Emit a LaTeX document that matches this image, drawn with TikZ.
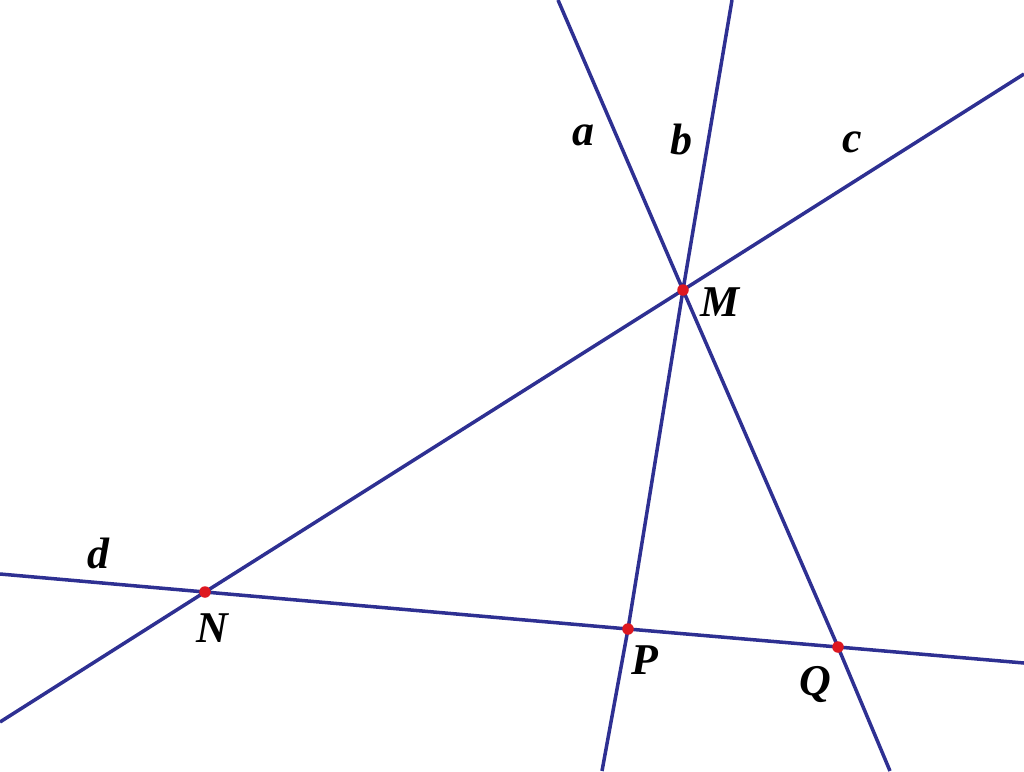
\documentclass[tikz,border=0pt]{standalone}
\usepackage{fontspec}
\setmainfont{Liberation Serif}
\usepackage{tikz}
\usetikzlibrary{positioning}

\definecolor{linecol}{RGB}{46,48,146}
\definecolor{dotcol}{RGB}{222,24,32}

\begin{document}
\begin{tikzpicture}[x=0.02cm,y=-0.02cm,
                    ln/.style={draw=linecol,line width=2pt},
                    pt/.style={circle,fill=dotcol,inner sep=0pt,minimum size=0.23cm},
                    lbl/.style={font=\fontsize{25}{30}\selectfont\bfseries\itshape,inner sep=0pt}]
  \useasboundingbox (0,0) rectangle (1024,771);

  % points
  \coordinate (M) at (683,290);
  \coordinate (N) at (205,592);
  \coordinate (P) at (628,629);
  \coordinate (Q) at (838,647);

  % line ends
  \coordinate (a1) at (558,0);   \coordinate (a2) at (890,771);
  \coordinate (b1) at (732,0);   \coordinate (b2) at (602,771);
  \coordinate (c1) at (1024,74); \coordinate (c2) at (0,722);
  \coordinate (d1) at (0,574);   \coordinate (d2) at (1024,663);

  \path[ln] (a1) -- (M) -- (Q) -- (a2)
            (b1) -- (M) -- (P) -- (b2)
            (c1) -- (M) -- (N) -- (c2)
            (d1) -- (N) -- (P) -- (Q) -- (d2);

  \node[pt] (dM) at (M) {};
  \node[pt] (dN) at (N) {};
  \node[pt] (dP) at (P) {};
  \node[pt] (dQ) at (Q) {};

  \node[lbl] (lM) at (720,302) {M};
  \node[lbl] (lN) at (212,628) {N};
  \node[lbl] (lP) at (645,660) {P};
  \node[lbl] (lQ) at (815,685) {Q};
  \node[lbl] (la) at (583,135) {a};
  \node[lbl] (lb) at (681,140) {b};
  \node[lbl] (lc) at (852,142) {c};
  \node[lbl] (ld) at (98,553)  {d};
\end{tikzpicture}
\end{document}
